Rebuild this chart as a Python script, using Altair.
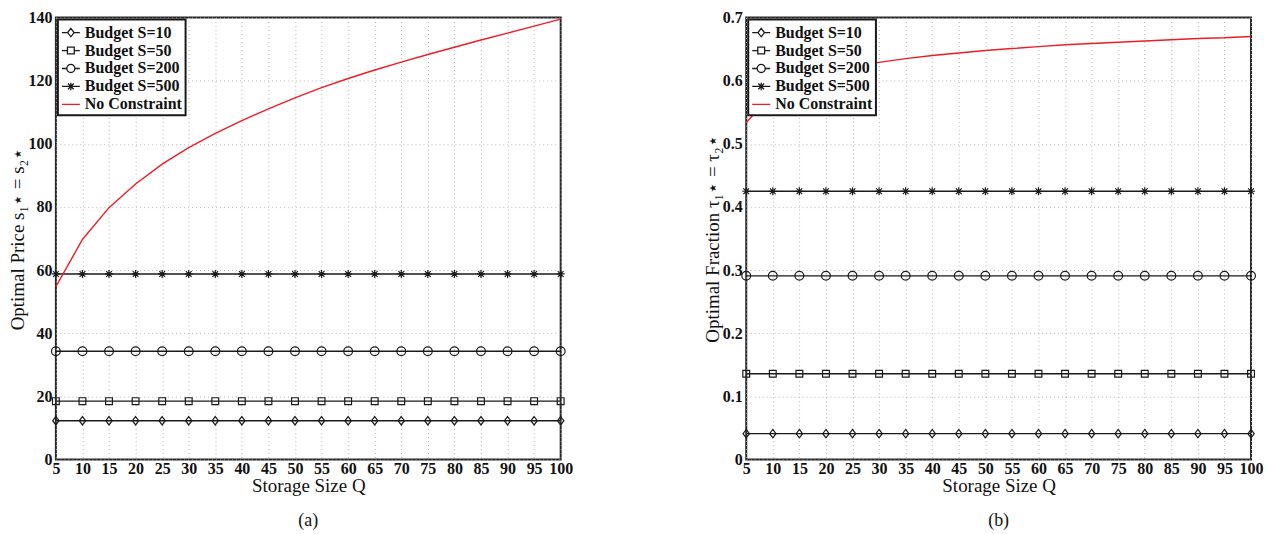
import altair as alt
import pandas as pd

# ---------------- data ----------------
Q = [5, 10, 15, 20, 25, 30, 35, 40, 45, 50, 55, 60, 65, 70, 75, 80, 85, 90, 95, 100]
SERIES = ["Budget S=10", "Budget S=50", "Budget S=200", "Budget S=500", "No Constraint"]
BUDGETS = SERIES[:4]

price_s10 = [12.3] * 20
price_s50 = [18.5] * 20
price_s200 = [34.3] * 20
price_s500 = [58.8] * 20
price_nc = [54.8, 69.7, 79.8, 87.3, 93.6, 98.8, 103.3, 107.4, 111.1, 114.6,
            117.8, 120.7, 123.4, 125.9, 128.3, 130.6, 132.9, 135.1, 137.3, 139.5]

frac_s10 = [0.041] * 20
frac_s50 = [0.136] * 20
frac_s200 = [0.291] * 20
frac_s500 = [0.425] * 20
frac_nc = [0.534, 0.580, 0.600, 0.613, 0.622, 0.629, 0.635, 0.640, 0.644, 0.648,
           0.651, 0.654, 0.657, 0.659, 0.661, 0.663, 0.665, 0.667, 0.668, 0.670]

price_ticks = [0, 20, 40, 60, 80, 100, 120, 140]
frac_ticks = [0, 0.1, 0.2, 0.3, 0.4, 0.5, 0.6, 0.7]

COLORS = ["#1a1a1a", "#1a1a1a", "#1a1a1a", "#1a1a1a", "#ee1c25"]

# marker paths for data points
POINT_SHAPES = [
    "M0,-1.05L0.8,0L0,1.05L-0.8,0Z",
    "M-0.85,-0.85L0.85,-0.85L0.85,0.85L-0.85,0.85Z",
    "M1.1,0A1.1,1.1,0,1,1,-1.1,0A1.1,1.1,0,1,1,1.1,0Z",
    "M-1,0L1,0M0,-1L0,1M-0.72,-0.72L0.72,0.72M-0.72,0.72L0.72,-0.72",
]
# legend symbols: marker with a line through it
LEGEND_SHAPES = [
    "M-1,0L-0.36,0M0.36,0L1,0M0,-0.47L0.36,0L0,0.47L-0.36,0Z",
    "M-1,0L-0.38,0M0.38,0L1,0M-0.38,-0.38L0.38,-0.38L0.38,0.38L-0.38,0.38Z",
    "M-1,0L-0.45,0M0.45,0L1,0M0.45,0A0.45,0.45,0,1,1,-0.45,0A0.45,0.45,0,1,1,0.45,0Z",
    "M-1,0L1,0M0,-0.42L0,0.42M-0.32,-0.32L0.32,0.32M-0.32,0.32L0.32,-0.32",
    "M-1,0L1,0",
]

FONT = "Liberation Serif"


def make_df(budget_lists, nc):
    rows = []
    for name, vals in zip(BUDGETS, budget_lists):
        for q, v in zip(Q, vals):
            rows.append({"Q": q, "value": v, "series": name})
    for q, v in zip(Q, nc):
        rows.append({"Q": q, "value": v, "series": "No Constraint"})
    return pd.DataFrame(rows)


def panel(df, ydomain, yticks, ytitle, caption, labelexpr):
    base = alt.Chart(df)
    x = alt.X("Q:Q", scale=alt.Scale(domain=[5, 100], nice=False, zero=False),
              axis=alt.Axis(values=Q, title="Storage Size Q", labelOverlap=False,
                            labelFlush=False))
    y = alt.Y("value:Q", scale=alt.Scale(domain=ydomain, nice=False),
              axis=alt.Axis(values=yticks, title=ytitle, labelExpr=labelexpr,
                            labelOverlap=False, labelFlush=False))
    lines = base.mark_line(strokeWidth=1.4).encode(
        x=x, y=y,
        color=alt.Color("series:N", scale=alt.Scale(domain=SERIES, range=COLORS), legend=None),
        order="Q:Q",
    )
    points = base.transform_filter("datum.series != 'No Constraint'").mark_point(
        filled=False, size=64, strokeWidth=1.2, color="#1a1a1a", opacity=1
    ).encode(
        x=x, y=y,
        shape=alt.Shape("series:N", scale=alt.Scale(domain=BUDGETS, range=POINT_SHAPES), legend=None),
    )
    legend_layer = base.transform_filter("datum.Q < 0").mark_point(
        filled=False, size=324, strokeWidth=1.3, opacity=1
    ).encode(
        x=x, y=y,
        shape=alt.Shape("series:N", title=None,
                        scale=alt.Scale(domain=SERIES, range=LEGEND_SHAPES),
                        legend=alt.Legend(title=None, orient="top-left", symbolSize=324,
                                          symbolStrokeWidth=1.3)),
        color=alt.Color("series:N", title=None,
                        scale=alt.Scale(domain=SERIES, range=COLORS),
                        legend=alt.Legend(title=None, orient="top-left", symbolSize=324,
                                          symbolStrokeWidth=1.3)),
    )
    return alt.layer(lines, points, legend_layer).resolve_scale(
        color="independent", shape="independent"
    ).properties(
        width=506, height=443,
        title=alt.TitleParams(caption, orient="bottom", font=FONT, fontSize=18,
                              fontWeight="normal", offset=17, frame="group",
                              anchor="middle", color="#111"),
    )


df_price = make_df([price_s10, price_s50, price_s200, price_s500], price_nc)
df_frac = make_df([frac_s10, frac_s50, frac_s200, frac_s500], frac_nc)

left = panel(df_price, [0, 140], price_ticks, "Optimal Price s\u2081\u22c6 = s\u2082\u22c6", "(a)",
             "format(datum.value, 'd')")
right = panel(df_frac, [0, 0.7], frac_ticks, "Optimal Fraction \u03c4\u2081\u22c6 = \u03c4\u2082\u22c6", "(b)",
              "datum.value == 0 ? '0' : format(datum.value, '.1f')")

chart = alt.hconcat(left, right, spacing=129).resolve_scale(
    color="independent", shape="independent", x="independent", y="independent"
).configure(
    padding={"left": 0, "top": 0, "right": 0, "bottom": 0}
).configure_view(
    stroke="#262626", strokeWidth=2
).configure_axis(
    labelFont=FONT, labelFontWeight="bold", labelFontSize=16, labelColor="#111",
    titleFont=FONT, titleFontWeight="normal", titleFontSize=19, titleColor="#111",
    grid=True, gridColor="#b5b5b5", gridDash=[1, 3], gridWidth=1,
    domain=False, ticks=False,
).configure_axisX(
    labelPadding=1, titlePadding=0
).configure_axisY(
    labelPadding=4, titlePadding=0
).configure_legend(
    offset=2, padding=3, strokeColor="#1a1a1a", strokeWidth=2, fillColor="white",
    labelFont=FONT, labelFontSize=16, labelFontWeight="bold", labelColor="#111",
    cornerRadius=0, rowPadding=0, labelOffset=4,
)

chart.save("out.html", embed_options={"renderer": "svg", "actions": False})
